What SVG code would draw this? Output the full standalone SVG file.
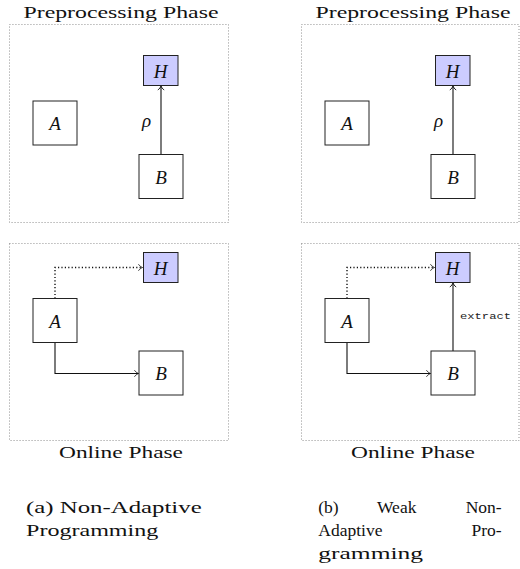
<svg xmlns="http://www.w3.org/2000/svg" width="520" height="569" viewBox="0 0 520 569">
<style>
.frame{fill:none;stroke:#777;stroke-width:0.9;stroke-dasharray:0.9 2.1}
.node{fill:#fff;stroke:#222;stroke-width:1}
.hnode{fill:#ccccff;stroke:#222;stroke-width:1}
.math{font-family:"Liberation Serif","DejaVu Serif",serif;font-style:italic;font-size:19px;text-anchor:middle;fill:#111}
.lbl{font-family:"Liberation Serif","DejaVu Serif",serif;font-size:17.5px;fill:#111}
.mid{text-anchor:middle}
.tt{font-family:"Liberation Mono","DejaVu Sans Mono",monospace;font-size:9.5px;fill:#222}
.edge{fill:none;stroke:#111;stroke-width:1.1}
.dot{fill:none;stroke:#111;stroke-width:1.4;stroke-dasharray:1.2 2.2}
</style>
<defs>
<marker id="to" viewBox="-5 -4 6 8" markerWidth="6" markerHeight="8" refX="0" refY="0" orient="auto" markerUnits="userSpaceOnUse">
<path d="M -4 -3.2 C -3 -1.5 -1 -0.4 0 0 C -1 0.4 -3 1.5 -4 3.2" fill="none" stroke="#111" stroke-width="0.9"/>
</marker>
</defs>

<g id="frames">
<rect class="frame" x="9.5" y="24.5" width="219" height="198"/>
<rect class="frame" x="9.5" y="243.5" width="219" height="197"/>
<rect class="frame" x="301.5" y="24.5" width="217.5" height="198"/>
<rect class="frame" x="301.5" y="243.5" width="217.5" height="197"/>
</g>
<g id="titles">
<text class="lbl mid" x="121" y="17.5" textLength="195" lengthAdjust="spacingAndGlyphs">Preprocessing Phase</text>
<text class="lbl mid" x="413" y="17.5" textLength="195" lengthAdjust="spacingAndGlyphs">Preprocessing Phase</text>
<text class="lbl mid" x="121" y="458" textLength="124" lengthAdjust="spacingAndGlyphs">Online Phase</text>
<text class="lbl mid" x="413" y="458" textLength="124" lengthAdjust="spacingAndGlyphs">Online Phase</text>
</g>

<g id="connectors">
<path class="edge" d="M 161 154.5 V 86" marker-end="url(#to)"/>
<path class="dot" d="M 55 298.5 V 267.5 H 142.5" marker-end="url(#to)"/>
<path class="edge" d="M 55 342.5 V 373.5 H 138.5" marker-end="url(#to)"/>
<path class="edge" d="M 453 154.5 V 86" marker-end="url(#to)"/>
<path class="dot" d="M 347 298.5 V 267.5 H 434.5" marker-end="url(#to)"/>
<path class="edge" d="M 347 342.5 V 373.5 H 430.5" marker-end="url(#to)"/>
<path class="edge" d="M 453 351 V 283" marker-end="url(#to)"/>
<text class="math" x="146.5" y="127">ρ</text>
<text class="math" x="438.5" y="127">ρ</text>
<text class="tt" x="460" y="319" textLength="51" lengthAdjust="spacingAndGlyphs">extract</text>
</g>

<g id="a-pre-A"><rect class="node" x="33" y="101" width="44" height="44"/><text class="math" x="55" y="130">A</text></g>
<g id="a-pre-H"><rect class="hnode" x="143.5" y="55.5" width="34.5" height="30"/><text class="math" x="160.7" y="77.5">H</text></g>
<g id="a-pre-B"><rect class="node" x="139" y="154.5" width="44" height="44"/><text class="math" x="161" y="183.5">B</text></g>

<g id="a-on-H"><rect class="hnode" x="143.5" y="252.5" width="34.5" height="30"/><text class="math" x="160.7" y="274.5">H</text></g>
<g id="a-on-A"><rect class="node" x="33" y="298.5" width="44" height="44"/><text class="math" x="55" y="327.5">A</text></g>
<g id="a-on-B"><rect class="node" x="139" y="351" width="44" height="44"/><text class="math" x="161" y="380">B</text></g>

<g id="b-pre-A"><rect class="node" x="325" y="101" width="44" height="44"/><text class="math" x="347" y="130">A</text></g>
<g id="b-pre-H"><rect class="hnode" x="435.5" y="55.5" width="34.5" height="30"/><text class="math" x="452.7" y="77.5">H</text></g>
<g id="b-pre-B"><rect class="node" x="431" y="154.5" width="44" height="44"/><text class="math" x="453" y="183.5">B</text></g>

<g id="b-on-H"><rect class="hnode" x="435.5" y="252.5" width="34.5" height="30"/><text class="math" x="452.7" y="274.5">H</text></g>
<g id="b-on-A"><rect class="node" x="325" y="298.5" width="44" height="44"/><text class="math" x="347" y="327.5">A</text></g>
<g id="b-on-B"><rect class="node" x="431" y="351" width="44" height="44"/><text class="math" x="453" y="380">B</text></g>

<g id="captions">
<text class="lbl" x="26" y="512.7" textLength="175.7" lengthAdjust="spacingAndGlyphs">(a) Non-Adaptive</text>
<text class="lbl" x="26" y="536" textLength="132.3" lengthAdjust="spacingAndGlyphs">Programming</text>
<text class="lbl" x="318.3" y="512.7">(b)</text>
<text class="lbl" x="377" y="512.7">Weak</text>
<text class="lbl" x="501.7" y="512.7" text-anchor="end">Non-</text>
<text class="lbl" x="318.3" y="536">Adaptive</text>
<text class="lbl" x="501.7" y="536" text-anchor="end">Pro-</text>
<text class="lbl" x="318.3" y="559" textLength="104.7" lengthAdjust="spacingAndGlyphs">gramming</text>
</g>
</svg>
